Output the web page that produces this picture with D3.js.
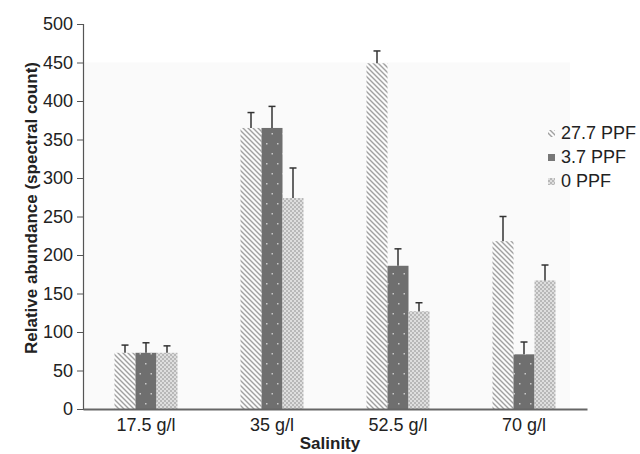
<!DOCTYPE html>
<html><head><meta charset="utf-8">
<script src="https://cdn.jsdelivr.net/npm/d3@7"></script>
<style>body{margin:0;background:#fff}svg{display:block}text{font-family:"Liberation Sans",Arial,sans-serif}</style>
</head><body><svg id="c" width="640" height="454"></svg>
<script>
const categories = ["17.5 g/l","35 g/l","52.5 g/l","70 g/l"];
const seriesNames = ["27.7 PPF","3.7 PPF","0 PPF"];
const values27 = [73, 365, 449, 218];
const values37 = [73, 365, 186, 71];
const values0  = [73, 274, 127, 167];
const err27 = [10, 20, 16, 32];
const err37 = [13, 28, 22, 16];
const err0  = [9, 39, 11, 20];
const yTicks = [0,50,100,150,200,250,300,350,400,450,500];

const FS = 18;
const svg = d3.select("#c");
const defs = svg.append("defs");
// hatch pattern
const ph = defs.append("pattern").attr("id","p0").attr("patternUnits","userSpaceOnUse").attr("width",5).attr("height",5);
ph.append("rect").attr("width",5).attr("height",5).attr("fill","#fbfbfb");
ph.append("path").attr("d","M-1,-1 L6,6 M-1,4 L1,6 M4,-1 L6,1").attr("stroke","#a0a0a0").attr("stroke-width",1.4);
// dark dotted
const pd = defs.append("pattern").attr("id","p1").attr("patternUnits","userSpaceOnUse").attr("width",11).attr("height",20);
pd.append("rect").attr("width",11).attr("height",20).attr("fill","#6f6f6f");
pd.append("rect").attr("x",2).attr("y",3).attr("width",1.5).attr("height",1.5).attr("fill","#c8c8c8");
pd.append("rect").attr("x",7.5).attr("y",13).attr("width",1.5).attr("height",1.5).attr("fill","#c8c8c8");
// light checker
const pc = defs.append("pattern").attr("id","p2").attr("patternUnits","userSpaceOnUse").attr("width",4).attr("height",4);
pc.append("rect").attr("width",4).attr("height",4).attr("fill","#dedede");
pc.append("rect").attr("x",0).attr("y",0).attr("width",2).attr("height",2).attr("fill","#b8b8b8");
pc.append("rect").attr("x",2).attr("y",2).attr("width",2).attr("height",2).attr("fill","#b8b8b8");

const fills = ["url(#p0)","url(#p1)","url(#p2)"];
const legendFills = ["url(#p0)","#777","url(#p2)"];

const x0 = 83, x1 = 587, yBot = 409, yTop = 24;
const x = d3.scaleBand().domain(categories).range([x0,x1]).padding(0.5).paddingOuter(0.25);
const xs = d3.scaleBand().domain(seriesNames).range([0,x.bandwidth()]);
const y = d3.scaleLinear().domain([0,500]).range([yBot,yTop]);

// plot background
svg.append("rect").attr("x",x0).attr("y",y(450)).attr("width",570-x0).attr("height",yBot-y(450)).attr("fill","#fafafa");

const series = [values27, values37, values0];
const errs = [err27, err37, err0];
series.forEach((vals,si)=>{
  const g = svg.append("g");
  g.selectAll("rect").data(vals).join("rect")
    .attr("x",(d,i)=>x(categories[i])+xs(seriesNames[si]))
    .attr("y",d=>y(d)).attr("width",xs.bandwidth()).attr("height",d=>yBot-y(d))
    .attr("fill",fills[si]);
});
series.forEach((vals,si)=>{
  const g = svg.append("g").attr("stroke","#333").attr("stroke-width",1.5);
  vals.forEach((v,i)=>{
    const cx = x(categories[i])+xs(seriesNames[si])+xs.bandwidth()/2;
    g.append("line").attr("x1",cx).attr("x2",cx).attr("y1",y(v)).attr("y2",y(v+errs[si][i]));
    g.append("line").attr("x1",cx-3.5).attr("x2",cx+3.5).attr("y1",y(v+errs[si][i])).attr("y2",y(v+errs[si][i]));
  });
});

// y axis
const ya = svg.append("g").attr("transform",`translate(${x0},0)`)
  .call(d3.axisLeft(y).tickValues(yTicks).tickSize(6).tickPadding(4));
ya.attr("font-size",FS).attr("font-family","Liberation Sans, Arial, sans-serif");
ya.select(".domain").attr("stroke","#555").attr("stroke-width",1.2);
ya.selectAll(".tick line").attr("stroke","#555");
ya.selectAll("text").attr("fill","#222");

// x axis
const xa = svg.append("g").attr("transform",`translate(0,${yBot})`)
  .call(d3.axisBottom(x).tickSize(0).tickPadding(9));
xa.attr("font-size",FS).attr("font-family","Liberation Sans, Arial, sans-serif");
xa.select(".domain").attr("stroke","#666").attr("stroke-width",2);
xa.selectAll("text").attr("fill","#222");

svg.append("text").attr("x",330).attr("y",449).attr("text-anchor","middle")
  .attr("font-size",17).attr("font-weight","bold").attr("fill","#222").text("Salinity");
svg.append("text").attr("transform","translate(37,208) rotate(-90)").attr("text-anchor","middle")
  .attr("font-size",17).attr("font-weight","bold").attr("fill","#222").text("Relative abundance (spectral count)");

// legend
const lg = svg.append("g");
seriesNames.forEach((n,i)=>{
  const base = 139 + i*24;
  lg.append("rect").attr("x",548).attr("y",base-9).attr("width",7).attr("height",7).attr("fill",legendFills[i]);
  lg.append("text").attr("x",561).attr("y",base).attr("font-size",FS).attr("fill","#222").text(n);
});
</script></body></html>
